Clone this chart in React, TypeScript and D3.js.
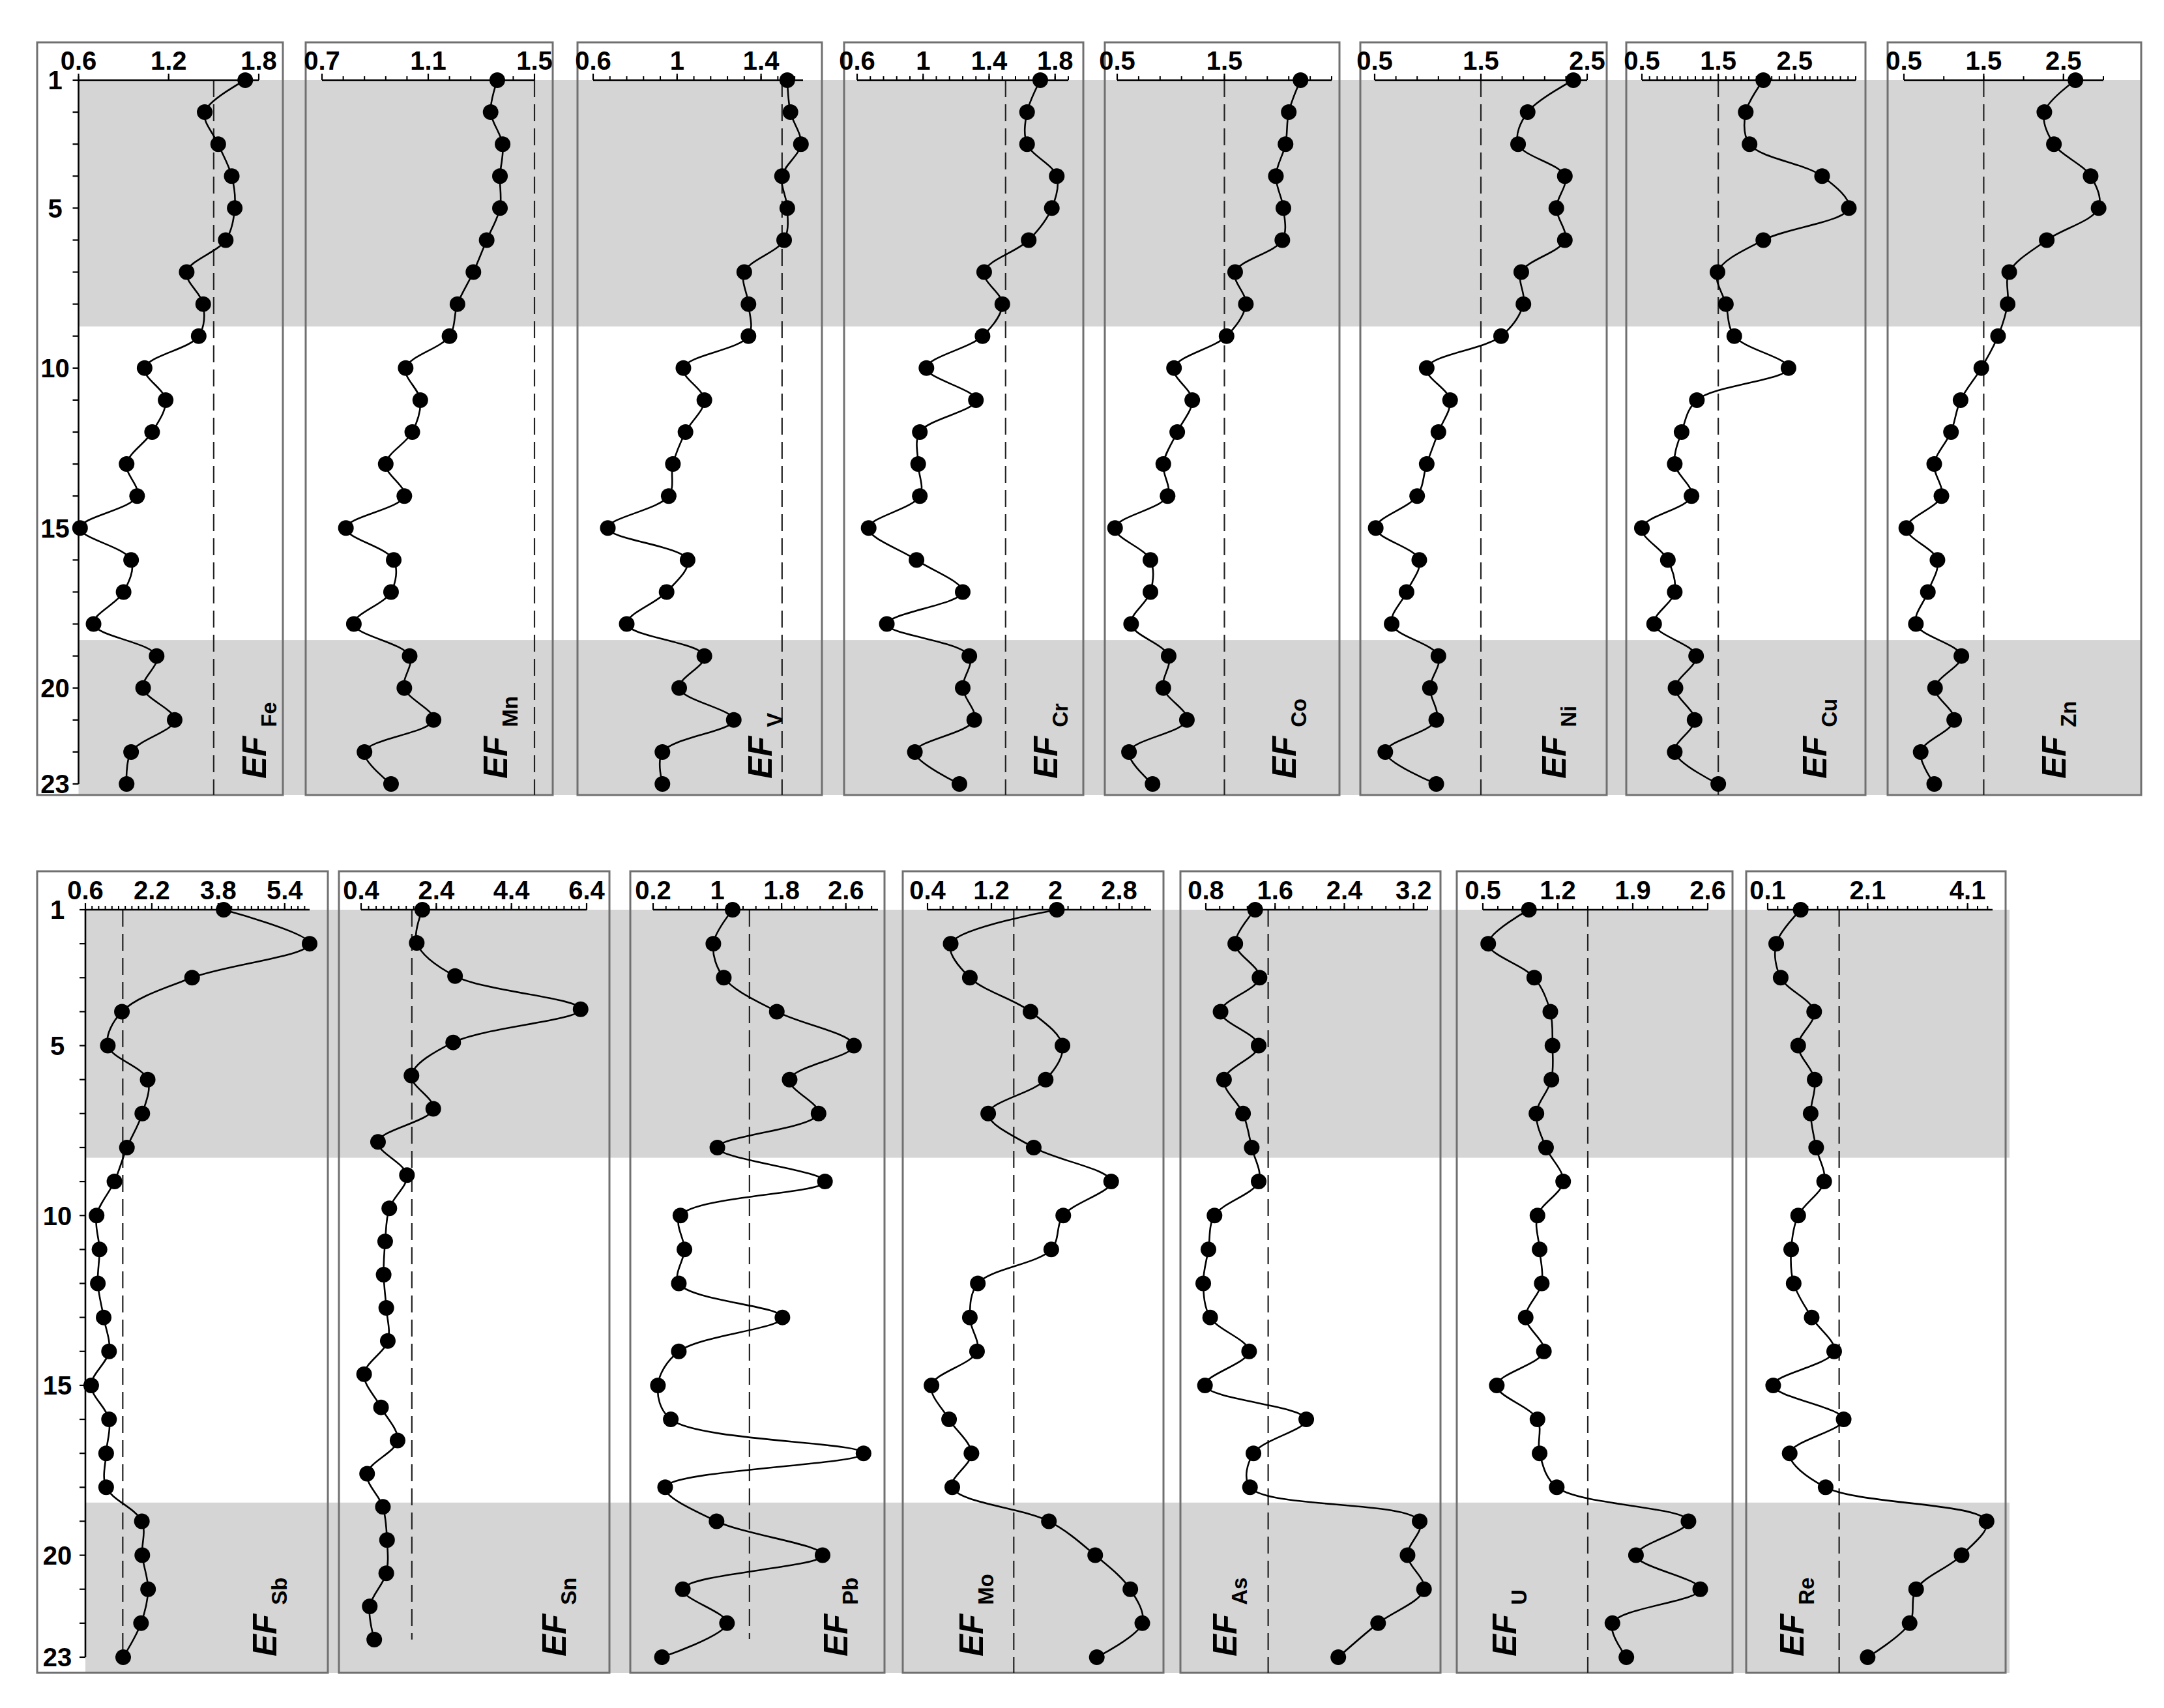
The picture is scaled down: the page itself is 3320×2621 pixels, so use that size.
import React from 'react';
import * as d3 from 'd3';

// sample numbers down the core (y axis)
const samples = [1, 2, 3, 4, 5, 6, 7, 8, 9, 10, 11, 12, 13, 14, 15, 16, 17, 18, 19, 20, 21, 22, 23];
const depthLabels = [1, 5, 10, 15, 20, 23];

const topElements = ['Fe', 'Mn', 'V', 'Cr', 'Co', 'Ni', 'Cu', 'Zn'];
const bottomElements = ['Sb', 'Sn', 'Pb', 'Mo', 'As', 'U', 'Re'];

// enrichment factors, sample 1 -> 23
const efFe = [1.71, 1.44, 1.53, 1.62, 1.64, 1.58, 1.32, 1.43, 1.4, 1.04, 1.18, 1.09, 0.92, 0.99, 0.61, 0.95, 0.9, 0.7, 1.12, 1.03, 1.24, 0.95, 0.92];
const efMn = [1.36, 1.335, 1.38, 1.37, 1.37, 1.32, 1.27, 1.21, 1.18, 1.015, 1.07, 1.04, 0.94, 1.01, 0.79, 0.97, 0.96, 0.82, 1.03, 1.01, 1.12, 0.86, 0.96];
const efV = [1.525, 1.54, 1.59, 1.5, 1.525, 1.51, 1.32, 1.34, 1.34, 1.03, 1.13, 1.04, 0.98, 0.96, 0.67, 1.05, 0.95, 0.76, 1.13, 1.01, 1.27, 0.93, 0.93];
const efCr = [1.71, 1.63, 1.63, 1.81, 1.78, 1.64, 1.37, 1.48, 1.36, 1.02, 1.32, 0.98, 0.97, 0.98, 0.67, 0.96, 1.24, 0.78, 1.28, 1.24, 1.31, 0.95, 1.22];
const efCo = [2.21, 2.1, 2.07, 1.98, 2.05, 2.04, 1.6, 1.7, 1.52, 1.03, 1.2, 1.06, 0.93, 0.97, 0.48, 0.81, 0.81, 0.63, 0.98, 0.93, 1.15, 0.61, 0.83];
const efNi = [2.37, 1.94, 1.85, 2.29, 2.21, 2.29, 1.88, 1.9, 1.69, 0.99, 1.21, 1.1, 0.99, 0.9, 0.51, 0.92, 0.8, 0.66, 1.1, 1.02, 1.08, 0.6, 1.08];
const efCu = [2.09, 1.86, 1.91, 2.86, 3.21, 2.09, 1.49, 1.6, 1.71, 2.42, 1.22, 1.02, 0.93, 1.15, 0.5, 0.84, 0.93, 0.66, 1.21, 0.94, 1.19, 0.93, 1.5];
const efZn = [2.65, 2.26, 2.38, 2.84, 2.94, 2.29, 1.82, 1.8, 1.68, 1.47, 1.21, 1.09, 0.88, 0.97, 0.53, 0.92, 0.8, 0.65, 1.22, 0.89, 1.13, 0.71, 0.88];
const efSb = [3.93, 6.0, 3.17, 1.48, 1.14, 2.1, 1.97, 1.6, 1.3, 0.87, 0.94, 0.9, 1.04, 1.17, 0.74, 1.17, 1.1, 1.1, 1.96, 1.97, 2.11, 1.94, 1.51];
const efSn = [2.03, 1.88, 2.9, 6.24, 2.85, 1.74, 2.32, 0.85, 1.62, 1.15, 1.04, 1.0, 1.07, 1.11, 0.48, 0.93, 1.37, 0.56, 0.98, 1.09, 1.07, 0.63, 0.75];
const efPb = [1.19, 0.95, 1.08, 1.74, 2.7, 1.9, 2.26, 1.0, 2.34, 0.54, 0.59, 0.52, 1.81, 0.52, 0.26, 0.42, 2.82, 0.35, 0.99, 2.31, 0.57, 1.12, 0.31];
const efMo = [2.02, 0.69, 0.93, 1.69, 2.09, 1.88, 1.16, 1.73, 2.7, 2.1, 1.95, 1.03, 0.93, 1.02, 0.45, 0.67, 0.95, 0.71, 1.92, 2.5, 2.94, 3.09, 2.52];
const efAs = [1.37, 1.14, 1.42, 0.97, 1.41, 1.01, 1.23, 1.33, 1.41, 0.9, 0.83, 0.77, 0.85, 1.3, 0.79, 1.96, 1.35, 1.31, 3.27, 3.13, 3.32, 2.79, 2.33];
const efU = [0.93, 0.55, 0.98, 1.13, 1.15, 1.14, 1.0, 1.09, 1.25, 1.01, 1.03, 1.05, 0.9, 1.07, 0.63, 1.01, 1.03, 1.19, 2.42, 1.93, 2.53, 1.71, 1.84];
const efRe = [0.76, 0.27, 0.36, 1.03, 0.71, 1.04, 0.96, 1.07, 1.23, 0.71, 0.57, 0.62, 0.98, 1.43, 0.21, 1.62, 0.54, 1.26, 4.48, 3.98, 3.07, 2.94, 2.1];

const efSeries: Record<string, number[]> = {
  Fe: efFe, Mn: efMn, V: efV, Cr: efCr, Co: efCo, Ni: efNi, Cu: efCu, Zn: efZn,
  Sb: efSb, Sn: efSn, Pb: efPb, Mo: efMo, As: efAs, U: efU, Re: efRe,
};

// x axis of each panel
const xDomains: Record<string, [number, number]> = {
  Fe: [0.6, 1.8], Mn: [0.7, 1.5], V: [0.6, 1.6], Cr: [0.6, 1.88], Co: [0.5, 2.5], Ni: [0.5, 2.5], Cu: [0.5, 3.3], Zn: [0.5, 3.0],
  Sb: [0.6, 6.0], Sn: [0.4, 6.4], Pb: [0.2, 3.0], Mo: [0.4, 3.2], As: [0.8, 3.36], U: [0.5, 2.6], Re: [0.1, 4.6],
};
const xTickLabels: Record<string, number[]> = {
  Fe: [0.6, 1.2, 1.8], Mn: [0.7, 1.1, 1.5], V: [0.6, 1, 1.4], Cr: [0.6, 1, 1.4, 1.8], Co: [0.5, 1.5], Ni: [0.5, 1.5, 2.5], Cu: [0.5, 1.5, 2.5], Zn: [0.5, 1.5, 2.5],
  Sb: [0.6, 2.2, 3.8, 5.4], Sn: [0.4, 2.4, 4.4, 6.4], Pb: [0.2, 1, 1.8, 2.6], Mo: [0.4, 1.2, 2, 2.8], As: [0.8, 1.6, 2.4, 3.2], U: [0.5, 1.2, 1.9, 2.6], Re: [0.1, 2.1, 4.1],
};
const minorSteps: Record<string, number> = {
  Fe: 0.6, Mn: 0.08, V: 0.08, Cr: 0.08, Co: 0.2, Ni: 0.2, Cu: 0.1, Zn: 0.5,
  Sb: 0.16, Sn: 0.2, Pb: 0.16, Mo: 0.16, As: 0.16, U: 0.14, Re: 0.2,
};
// dashed EF reference line, where it sits in each panel
const refLines: Record<string, number> = {
  Fe: 1.5, Mn: 1.5, V: 1.5, Cr: 1.5, Co: 1.5, Ni: 1.5, Cu: 1.5, Zn: 1.5,
  Sb: 1.5, Sn: 1.75, Pb: 1.4, Mo: 1.48, As: 1.52, U: 1.48, Re: 1.53,
};
// shaded sample intervals (per row)
const shadedTop: [number, number][] = [[1, 8.7], [18.5, 24]];
const shadedBottom: [number, number][] = [[1, 8.3], [18.45, 24]];

// ---- layout (pixels) ----
const W = 3320;
const H = 2621;
const rows = [
  { elements: topElements, bands: shadedTop, y1: 123, y23: 1203, frameTop: 65, frameBottom: 1220, bandX: [120.5, 3285], efY: 1195, labelOff: 36 },
  { elements: bottomElements, bands: shadedBottom, y1: 1396, y23: 2543, frameTop: 1337, frameBottom: 2567, bandX: [131, 3083], efY: 2542, labelOff: 43 },
];
type Box = { frame: [number, number]; axis: [number, number]; efX: number; y23?: number; dashEnd?: number };
const boxes: Record<string, Box> = {
  Fe: { frame: [57, 434], axis: [120.5, 397], efX: 408 },
  Mn: { frame: [469, 848], axis: [494, 820], efX: 778 },
  V: { frame: [886, 1261], axis: [910, 1232], efX: 1184 },
  Cr: { frame: [1295, 1662], axis: [1315, 1639], efX: 1622 },
  Co: { frame: [1695, 2055], axis: [1714, 2043], efX: 1988 },
  Ni: { frame: [2087, 2465], axis: [2109, 2435], efX: 2402 },
  Cu: { frame: [2495, 2862], axis: [2519, 2847], efX: 2802 },
  Zn: { frame: [2896, 3285], axis: [2921, 3227], efX: 3169 },
  Sb: { frame: [57, 503], axis: [131, 475], efX: 424, dashEnd: 2533 },
  Sn: { frame: [520, 935], axis: [554, 900], efX: 868, y23: 2516, dashEnd: 2516 },
  Pb: { frame: [967, 1357], axis: [1002, 1347], efX: 1300, dashEnd: 2515 },
  Mo: { frame: [1385, 1785], axis: [1423, 1766], efX: 1508 },
  As: { frame: [1811, 2210], axis: [1850, 2190], efX: 1897 },
  U: { frame: [2235, 2658], axis: [2275, 2620], efX: 2326 },
  Re: { frame: [2679, 3077], axis: [2712, 3057], efX: 2767 },
};

const FONT = '"Liberation Sans", Arial, sans-serif';
const BAND = '#d5d5d5';
const FRAME = '#707070';

function fmt(v: number) {
  return String(+v.toFixed(2));
}

function Panel({ el, row, first }: { el: string; row: (typeof rows)[number]; first: boolean }) {
  const box = boxes[el];
  const values = efSeries[el];
  const [d0, d1] = xDomains[el];
  const x = d3.scaleLinear().domain([d0, d1]).range(box.axis);
  const y = d3.scaleLinear().domain([1, 23]).range([row.y1, box.y23 ?? row.y23]);
  const line = d3
    .line<number>()
    .x((v) => x(v))
    .y((_, i) => y(samples[i]))
    .curve(d3.curveCatmullRom.alpha(0.5));
  const minor = d3.range(d0, d1 + 1e-6, minorSteps[el]);
  const ax = box.axis[0];

  return (
    <g>
      <rect
        x={box.frame[0]}
        y={row.frameTop}
        width={box.frame[1] - box.frame[0]}
        height={row.frameBottom - row.frameTop}
        fill="none"
        stroke={FRAME}
        strokeWidth={3}
      />
      <line
        x1={x(refLines[el])}
        x2={x(refLines[el])}
        y1={row.y1}
        y2={box.dashEnd ?? row.frameBottom}
        stroke="#222"
        strokeWidth={2.2}
        strokeDasharray="26,11"
      />
      {/* x axis on top */}
      <line x1={box.axis[0]} x2={box.axis[1]} y1={row.y1} y2={row.y1} stroke="#000" strokeWidth={2.6} />
      {minor.map((t, i) => (
        <line key={'m' + i} x1={x(t)} x2={x(t)} y1={row.y1} y2={row.y1 - 6} stroke="#000" strokeWidth={2} />
      ))}
      {xTickLabels[el].map((t) => (
        <g key={'t' + t}>
          <line x1={x(t)} x2={x(t)} y1={row.y1} y2={row.y1 - 10} stroke="#000" strokeWidth={2.2} />
          <text
            x={x(t)}
            y={row.y1 - 16}
            textAnchor="middle"
            fontFamily={FONT}
            fontWeight="bold"
            fontSize={40}
          >
            {fmt(t)}
          </text>
        </g>
      ))}
      {first && (
        <g>
          <line x1={ax} x2={ax} y1={row.y1} y2={row.y23} stroke="#000" strokeWidth={2.6} />
          {samples.map((s) => (
            <line key={'yt' + s} x1={ax - 9} x2={ax} y1={y(s)} y2={y(s)} stroke="#000" strokeWidth={2.2} />
          ))}
          {depthLabels.map((s) => (
            <text
              key={'yl' + s}
              x={ax - row.labelOff}
              y={y(s)}
              dy="0.36em"
              textAnchor="middle"
              fontFamily={FONT}
              fontWeight="bold"
              fontSize={40}
            >
              {s}
            </text>
          ))}
        </g>
      )}
      <path d={line(values) ?? ''} fill="none" stroke="#000" strokeWidth={2.6} />
      {values.map((v, i) => (
        <circle key={'p' + i} cx={x(v)} cy={y(samples[i])} r={12} fill="#000" />
      ))}
      <text
        transform={`translate(${box.efX},${row.efY}) rotate(-90)`}
        fontFamily={FONT}
        fontWeight="bold"
        fill="#000"
      >
        <tspan fontStyle="italic" fontSize={51}>
          EF
        </tspan>
        <tspan fontSize={33} dx={14} dy={16}>
          {el}
        </tspan>
      </text>
    </g>
  );
}

export default function App() {
  return (
    <svg
      width={W}
      height={H}
      viewBox={`0 0 ${W} ${H}`}
      style={{ position: 'absolute', left: 0, top: 0, background: '#fff' }}
    >
      <rect x={0} y={0} width={W} height={H} fill="#fff" />
      {rows.map((row, ri) => {
        const yb = d3.scaleLinear().domain([1, 23]).range([row.y1, row.y23]);
        return (
          <g key={ri}>
            {row.bands.map(([a, b], bi) => (
              <rect
                key={bi}
                x={row.bandX[0]}
                y={yb(a)}
                width={row.bandX[1] - row.bandX[0]}
                height={Math.min(yb(b), row.frameBottom) - yb(a)}
                fill={BAND}
              />
            ))}
            {row.elements.map((el, i) => (
              <Panel key={el} el={el} row={row} first={i === 0} />
            ))}
          </g>
        );
      })}
    </svg>
  );
}
